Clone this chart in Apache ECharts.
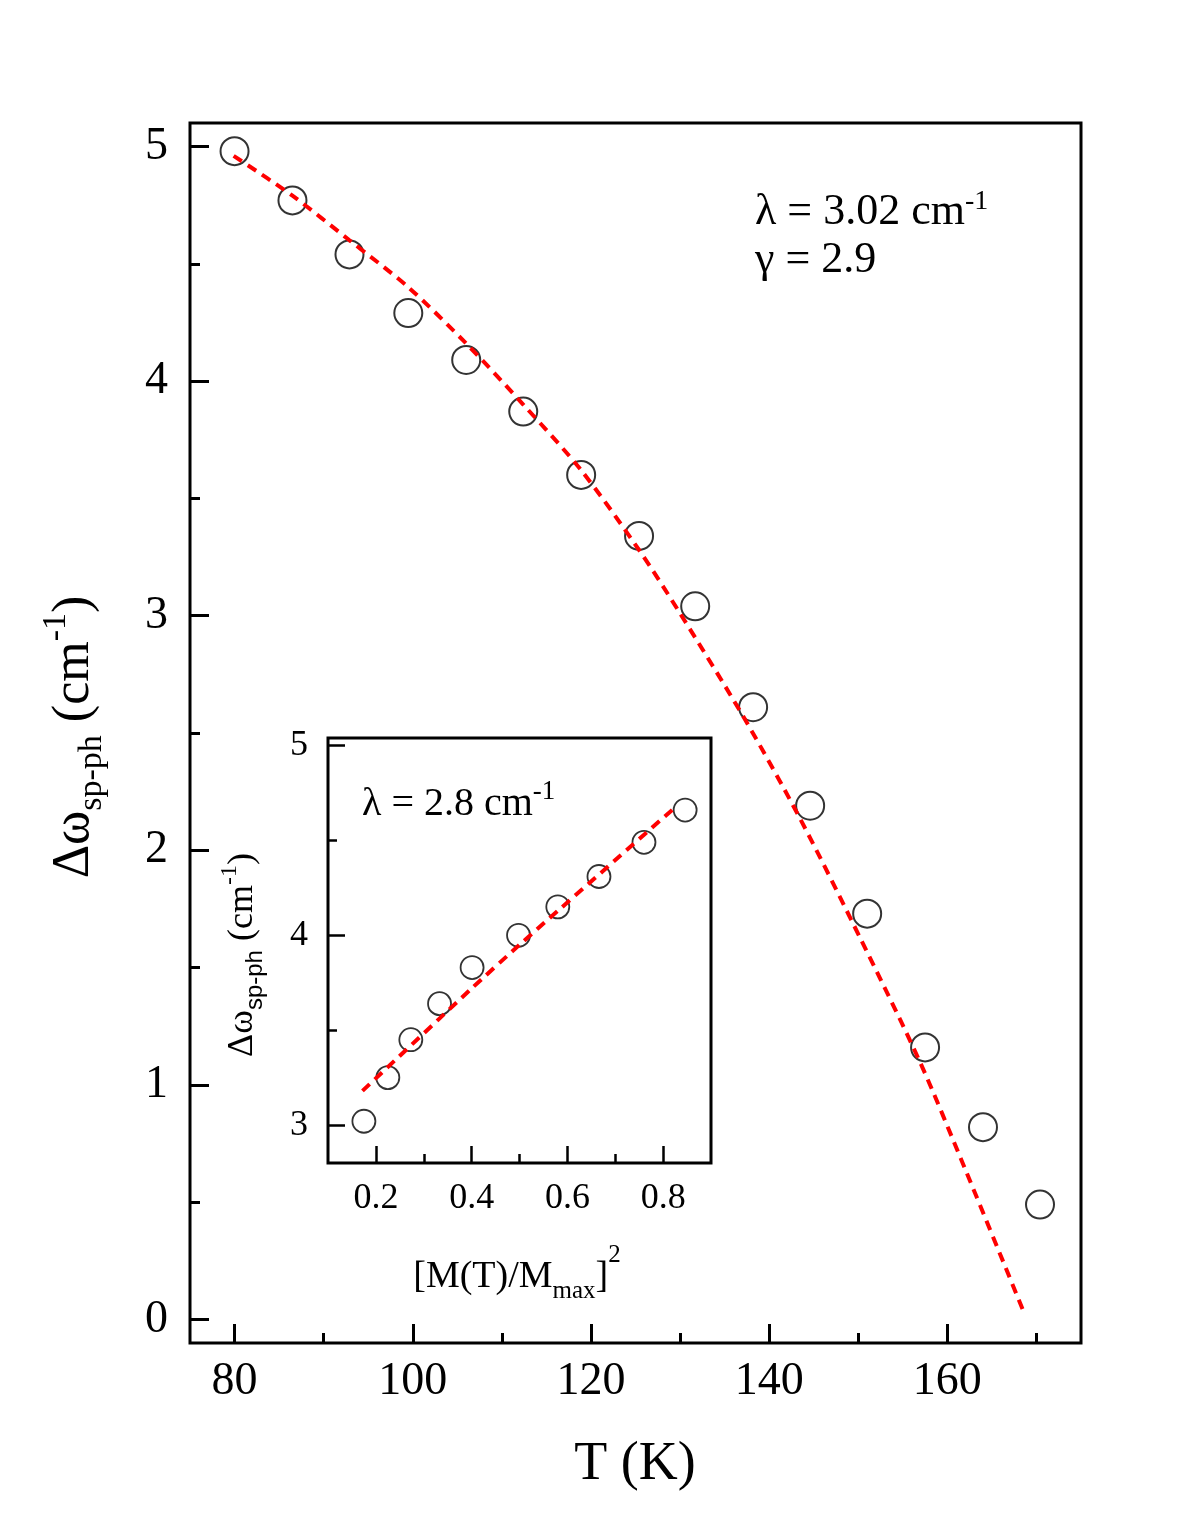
<!DOCTYPE html>
<html>
<head>
<meta charset="utf-8">
<script src="https://cdn.jsdelivr.net/npm/echarts@6/dist/echarts.min.js"></script>
<style>
html, body { margin: 0; padding: 0; background: #fff; }
#main { width: 1188px; height: 1528px; }
</style>
</head>
<body>
<div id="main"></div>
<script>
// main panel: spin-phonon shift vs temperature
var tempK = [80.0, 86.5, 92.9, 99.5, 106.0, 112.4, 118.9, 125.4, 131.7, 138.2, 144.6, 151.0, 157.5, 164.0, 170.4];
var shiftMain = [4.98, 4.77, 4.54, 4.29, 4.09, 3.87, 3.60, 3.34, 3.04, 2.61, 2.19, 1.73, 1.16, 0.82, 0.49];
var fitTempK = [79.9, 86.5, 92.9, 99.5, 106.0, 112.4, 118.9, 125.4, 130.0, 137.1, 143.4, 150.3, 156.9, 161.9, 168.6];
var fitMain = [4.96, 4.79, 4.60, 4.40, 4.16, 3.90, 3.62, 3.28, 3.01, 2.57, 2.14, 1.62, 1.10, 0.65, 0.03];

// inset: shift vs [M(T)/Mmax]^2
var magSq = [0.175, 0.225, 0.273, 0.333, 0.401, 0.498, 0.580, 0.666, 0.760, 0.846];
var shiftInset = [3.02, 3.25, 3.45, 3.64, 3.83, 4.00, 4.15, 4.31, 4.49, 4.66];
var fitMagSq = [0.172, 0.40, 0.50, 0.823];
var fitInset = [3.18, 3.72, 3.95, 4.67];

// tick values
var xTicksMain = [80, 100, 120, 140, 160];
var xMinorMain = [90, 110, 130, 150, 170];
var yTicksMain = [0, 1, 2, 3, 4, 5];
var yMinorMain = [0.5, 1.5, 2.5, 3.5, 4.5];
var xTicksInset = [0.2, 0.4, 0.6, 0.8];
var xMinorInset = [0.3, 0.5, 0.7];
var yTicksInset = [3, 4, 5];
var yMinorInset = [3.5, 4.5];

var SERIF = '"Liberation Serif", "Times New Roman", serif';
var SANS = '"Liberation Sans", Arial, sans-serif';

var measure = document.createElement('canvas').getContext('2d');
function textWidth(t, size, fam) {
	measure.font = size + 'px ' + (fam || SERIF);
	return measure.measureText(t).width;
}

// a line of text with sub/superscripts; parts = [text, size, baselineShift, family]
function textRun(parts, x, y, rot, center) {
	var total = 0;
	parts.forEach(function (p) { total += textWidth(p[0], p[1], p[3]); });
	var cur = center ? -total / 2 : 0;
	var kids = parts.map(function (p) {
		var el = {
			type: 'text',
			x: cur,
			y: (p[2] || 0) - 0.34 * p[1],
			silent: true,
			style: {
				text: p[0],
				fontSize: p[1],
				fontFamily: p[3] || SERIF,
				fill: '#000',
				align: 'left',
				verticalAlign: 'middle'
			}
		};
		cur += textWidth(p[0], p[1], p[3]);
		return el;
	});
	return { type: 'group', x: x, y: y, rotation: rot || 0, children: kids };
}

function axisPair(dim, grid, min, max, major, minor, fontSize, bigLen, smallLen, margin, tickW) {
	var pos = dim === 'x' ? 'bottom' : 'left';
	var majorAxis = {
		type: 'value', gridIndex: grid, position: pos, min: min, max: max,
		axisLine: { show: false, onZero: false },
		splitLine: { show: false },
		axisTick: { show: true, inside: true, length: bigLen, customValues: major,
			lineStyle: { color: '#000', width: tickW } },
		axisLabel: { show: true, customValues: major, fontSize: fontSize, fontFamily: SERIF,
			color: '#000', margin: margin }
	};
	var minorAxis = {
		type: 'value', gridIndex: grid, position: pos, min: min, max: max,
		axisLine: { show: false, onZero: false },
		splitLine: { show: false },
		axisTick: { show: true, inside: true, length: smallLen, customValues: minor,
			lineStyle: { color: '#000', width: tickW } },
		axisLabel: { show: false }
	};
	return [majorAxis, minorAxis];
}

function pairs(xs, ys) {
	return xs.map(function (v, i) { return [v, ys[i]]; });
}

var xAxes = axisPair('x', 0, 75, 175, xTicksMain, xMinorMain, 46, 19, 10, 16, 3)
	.concat(axisPair('x', 1, 0.1, 0.9, xTicksInset, xMinorInset, 36, 17, 9, 18, 2.5));
var yAxes = axisPair('y', 0, -0.1, 5.1, yTicksMain, yMinorMain, 46, 19, 10, 22, 3)
	.concat(axisPair('y', 1, 2.8, 5.04, yTicksInset, yMinorInset, 36, 17, 9, 20, 2.5));

var dashRed = { color: '#ff0000', width: 4, type: [10, 7] };

var option = {
	backgroundColor: '#fff',
	animation: false,
	grid: [
		{ left: 190, top: 123, width: 891, height: 1220, show: true,
			borderColor: '#000', borderWidth: 3, backgroundColor: 'transparent' },
		{ left: 328, top: 738, width: 383, height: 425, show: true,
			borderColor: '#000', borderWidth: 3, backgroundColor: '#fff' }
	],
	xAxis: xAxes,
	yAxis: yAxes,
	series: [
		{
			type: 'scatter', xAxisIndex: 0, yAxisIndex: 0,
			data: pairs(tempK, shiftMain),
			symbol: 'circle', symbolSize: 28,
			itemStyle: { color: 'rgba(0,0,0,0)', borderColor: '#000', borderWidth: 2 },
			z: 2
		},
		{
			type: 'line', xAxisIndex: 0, yAxisIndex: 0,
			data: pairs(fitTempK, fitMain),
			smooth: 0.3, showSymbol: false, symbol: 'none',
			lineStyle: dashRed,
			z: 3
		},
		{
			type: 'scatter', xAxisIndex: 2, yAxisIndex: 2,
			data: pairs(magSq, shiftInset),
			symbol: 'circle', symbolSize: 23,
			itemStyle: { color: 'rgba(0,0,0,0)', borderColor: '#000', borderWidth: 1.8 },
			z: 2
		},
		{
			type: 'line', xAxisIndex: 2, yAxisIndex: 2,
			data: pairs(fitMagSq, fitInset),
			smooth: 0.2, showSymbol: false, symbol: 'none',
			lineStyle: dashRed,
			z: 3
		}
	],
	graphic: [
		textRun([['T (K)', 54]], 635, 1483, 0, true),
		textRun([['Δω', 52], ['sp-ph', 34, 12], [' (cm', 52], ['-1', 34, -24], [')', 52]],
			92, 737, Math.PI / 2, true),
		textRun([['λ = 3.02 cm', 44], ['-1', 28, -16]], 755, 227, 0, false),
		textRun([['γ = 2.9', 44]], 755, 275, 0, false),
		textRun([['λ = 2.8 cm', 40], ['-1', 27, -17]], 362, 818, 0, false),
		textRun([['[M(T)/M', 38], ['max', 25, 10], [']', 38], ['2', 25, -26]], 517, 1290, 0, true),
		textRun([['Δω', 36], ['sp-ph', 24, 9, SANS], [' (cm', 36], ['-1', 24, -17], [')', 36]],
			255, 955, Math.PI / 2, true)
	]
};

var myChart = echarts.init(document.getElementById('main'));
myChart.setOption(option, true);
</script>
</body>
</html>
